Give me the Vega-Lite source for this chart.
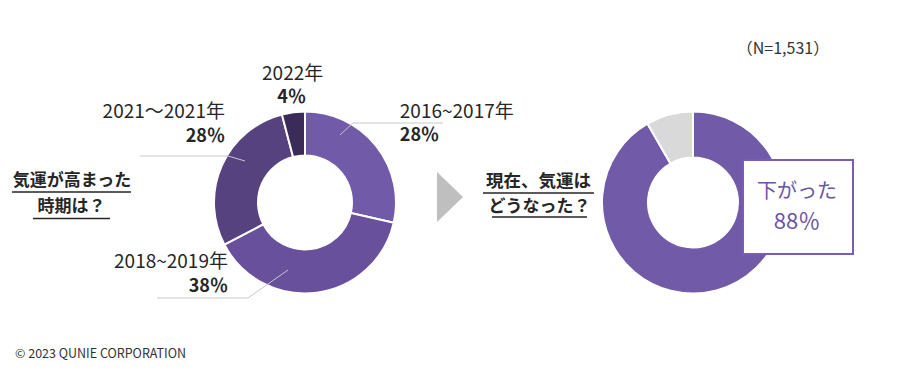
{
  "$schema": "https://vega.github.io/schema/vega-lite/v6.json",
  "width": 900,
  "height": 378,
  "autosize": {"type": "fit", "contains": "padding"},
  "padding": 0,
  "background": "white",
  "config": {"view": {"stroke": null}, "font": "Noto Sans CJK JP", "axis": {"disable": true}},
  "datasets": {
    "period": [
      {"category": "2016~2017年", "value": 28, "label": "28％", "rank": 1},
      {"category": "2018~2019年", "value": 38, "label": "38％", "rank": 2},
      {"category": "2021～2021年", "value": 28, "label": "28％", "rank": 3},
      {"category": "2022年", "value": 4, "label": "4％", "rank": 4}
    ],
    "now": [
      {"answer": "下がった", "value": 88, "label": "88％", "rank": 1},
      {"answer": "その他", "value": 8, "label": "8％", "rank": 2}
    ]
  },
  "resolve": {"scale": {"color": "independent", "theta": "independent"}},
  "layer": [
    {
      "data": {"name": "period"},
      "mark": {"type": "arc", "innerRadius": 47, "outerRadius": 91, "stroke": "white", "strokeWidth": 2},
      "encoding": {
        "x": {"datum": "高まった時期", "type": "nominal", "axis": null, "scale": {"type": "point", "domain": ["高まった時期", "現在"], "padding": 0.6598, "align": 0.5957}},
        "y": {"datum": "中心", "type": "nominal", "axis": null, "scale": {"type": "point", "domain": ["中心"], "align": 0.5357}},
        "theta": {"field": "value", "type": "quantitative", "stack": true},
        "order": {"field": "rank", "type": "quantitative"},
        "color": {"field": "category", "type": "nominal", "legend": null,
          "scale": {"domain": ["2016~2017年", "2018~2019年", "2021～2021年", "2022年"], "range": ["#715aa8", "#69509c", "#574280", "#3a2b58"]}}
      }
    },
    {
      "data": {"name": "now"},
      "mark": {"type": "arc", "innerRadius": 45, "outerRadius": 91, "stroke": "white", "strokeWidth": 2},
      "encoding": {
        "x": {"datum": "現在", "type": "nominal"},
        "y": {"datum": "中心", "type": "nominal"},
        "theta": {"field": "value", "type": "quantitative", "stack": true},
        "order": {"field": "rank", "type": "quantitative"},
        "color": {"field": "answer", "type": "nominal", "legend": null,
          "scale": {"domain": ["下がった", "その他"], "range": ["#715aa8", "#d9d9d9"]}}
      }
    },
    {
      "data": {"name": "period"},
      "mark": {"type": "text", "radius": 120, "align": "left", "baseline": "middle", "dx": 1, "dy": -15.7, "fontSize": 19, "color": "#262626"},
      "encoding": {"x": {"datum": "高まった時期", "type": "nominal"}, "y": {"datum": "中心", "type": "nominal"},
        "theta": {"field": "value", "type": "quantitative", "stack": true}, "order": {"field": "rank", "type": "quantitative"}, "detail": {"field": "category", "type": "nominal"},
        "text": {"condition": {"test": "datum.category === '2016~2017年'", "field": "category"}, "value": ""}}
    },
    {
      "data": {"name": "period"},
      "mark": {"type": "text", "radius": 120, "align": "left", "baseline": "middle", "dx": 1, "dy": 8.8, "fontSize": 18, "fontWeight": "bold", "color": "#262626"},
      "encoding": {"x": {"datum": "高まった時期", "type": "nominal"}, "y": {"datum": "中心", "type": "nominal"},
        "theta": {"field": "value", "type": "quantitative", "stack": true}, "order": {"field": "rank", "type": "quantitative"}, "detail": {"field": "category", "type": "nominal"},
        "text": {"condition": {"test": "datum.category === '2016~2017年'", "field": "label"}, "value": ""}}
    },
    {
      "data": {"name": "period"},
      "mark": {"type": "text", "radius": 120, "align": "right", "baseline": "middle", "dx": -92.4, "dy": -59.5, "fontSize": 19, "color": "#262626"},
      "encoding": {"x": {"datum": "高まった時期", "type": "nominal"}, "y": {"datum": "中心", "type": "nominal"},
        "theta": {"field": "value", "type": "quantitative", "stack": true}, "order": {"field": "rank", "type": "quantitative"}, "detail": {"field": "category", "type": "nominal"},
        "text": {"condition": {"test": "datum.category === '2018~2019年'", "field": "category"}, "value": ""}}
    },
    {
      "data": {"name": "period"},
      "mark": {"type": "text", "radius": 120, "align": "right", "baseline": "middle", "dx": -92.4, "dy": -35, "fontSize": 18, "fontWeight": "bold", "color": "#262626"},
      "encoding": {"x": {"datum": "高まった時期", "type": "nominal"}, "y": {"datum": "中心", "type": "nominal"},
        "theta": {"field": "value", "type": "quantitative", "stack": true}, "order": {"field": "rank", "type": "quantitative"}, "detail": {"field": "category", "type": "nominal"},
        "text": {"condition": {"test": "datum.category === '2018~2019年'", "field": "label"}, "value": ""}}
    },
    {
      "data": {"name": "period"},
      "mark": {"type": "text", "radius": 120, "align": "right", "baseline": "middle", "dx": 29.7, "dy": -41.9, "fontSize": 19, "color": "#262626"},
      "encoding": {"x": {"datum": "高まった時期", "type": "nominal"}, "y": {"datum": "中心", "type": "nominal"},
        "theta": {"field": "value", "type": "quantitative", "stack": true}, "order": {"field": "rank", "type": "quantitative"}, "detail": {"field": "category", "type": "nominal"},
        "text": {"condition": {"test": "datum.category === '2021～2021年'", "field": "category"}, "value": ""}}
    },
    {
      "data": {"name": "period"},
      "mark": {"type": "text", "radius": 120, "align": "right", "baseline": "middle", "dx": 29.7, "dy": -17.4, "fontSize": 18, "fontWeight": "bold", "color": "#262626"},
      "encoding": {"x": {"datum": "高まった時期", "type": "nominal"}, "y": {"datum": "中心", "type": "nominal"},
        "theta": {"field": "value", "type": "quantitative", "stack": true}, "order": {"field": "rank", "type": "quantitative"}, "detail": {"field": "category", "type": "nominal"},
        "text": {"condition": {"test": "datum.category === '2021～2021年'", "field": "label"}, "value": ""}}
    },
    {
      "data": {"name": "period"},
      "mark": {"type": "text", "radius": 120, "align": "center", "baseline": "middle", "dx": 3, "dy": -9.5, "fontSize": 19, "color": "#262626"},
      "encoding": {"x": {"datum": "高まった時期", "type": "nominal"}, "y": {"datum": "中心", "type": "nominal"},
        "theta": {"field": "value", "type": "quantitative", "stack": true}, "order": {"field": "rank", "type": "quantitative"}, "detail": {"field": "category", "type": "nominal"},
        "text": {"condition": {"test": "datum.category === '2022年'", "field": "category"}, "value": ""}}
    },
    {
      "data": {"name": "period"},
      "mark": {"type": "text", "radius": 120, "align": "center", "baseline": "middle", "dx": 2, "dy": 15, "fontSize": 18, "fontWeight": "bold", "color": "#262626"},
      "encoding": {"x": {"datum": "高まった時期", "type": "nominal"}, "y": {"datum": "中心", "type": "nominal"},
        "theta": {"field": "value", "type": "quantitative", "stack": true}, "order": {"field": "rank", "type": "quantitative"}, "detail": {"field": "category", "type": "nominal"},
        "text": {"condition": {"test": "datum.category === '2022年'", "field": "label"}, "value": ""}}
    },
    {
      "data": {"values": [{"decoration": "leader lines"}]},
      "mark": {"type": "point", "shape": "M0.35,-0.675L0.48,-0.795L1.38,-0.795M-1.65,-0.465L-0.77,-0.465L-0.6,-0.415M-1.48,0.955L-0.57,0.955L-0.17,0.675", "size": 40000, "filled": false, "color": "#c8c8c8", "strokeWidth": 1, "opacity": 1},
      "encoding": {"x": {"datum": "高まった時期", "type": "nominal"}, "y": {"datum": "中心", "type": "nominal"}}
    },
    {
      "data": {"values": [{"q": "気運が高まった"}]},
      "mark": {"type": "text", "align": "center", "baseline": "middle", "dx": -233, "dy": -21, "fontSize": 17, "fontWeight": "bold", "color": "#262626"},
      "encoding": {"x": {"datum": "高まった時期", "type": "nominal"}, "y": {"datum": "中心", "type": "nominal"}, "text": {"field": "q"}}
    },
    {
      "data": {"values": [{"q": "時期は？"}]},
      "mark": {"type": "text", "align": "center", "baseline": "middle", "dx": -233.5, "dy": 4.5, "fontSize": 17, "fontWeight": "bold", "color": "#262626"},
      "encoding": {"x": {"datum": "高まった時期", "type": "nominal"}, "y": {"datum": "中心", "type": "nominal"}, "text": {"field": "q"}}
    },
    {
      "data": {"values": [{"decoration": "underline"}]},
      "mark": {"type": "point", "shape": "M-2.93,-0.105L-1.74,-0.105M-2.72,0.16L-1.95,0.16", "size": 40000, "filled": false, "color": "#262626", "strokeWidth": 1.5, "opacity": 1},
      "encoding": {"x": {"datum": "高まった時期", "type": "nominal"}, "y": {"datum": "中心", "type": "nominal"}}
    },
    {
      "data": {"values": [{"decoration": "arrow"}]},
      "mark": {"type": "point", "shape": "M-0.52,-1L0.52,0L-0.52,1Z", "size": 2500, "filled": true, "color": "#bfbfbf", "strokeWidth": 0, "opacity": 1, "xOffset": 145, "yOffset": -5.5},
      "encoding": {"x": {"datum": "高まった時期", "type": "nominal"}, "y": {"datum": "中心", "type": "nominal"}}
    },
    {
      "data": {"values": [{"q": "現在、気運は"}]},
      "mark": {"type": "text", "align": "center", "baseline": "middle", "dx": -154.5, "dy": -20.5, "fontSize": 17.5, "fontWeight": "bold", "color": "#262626"},
      "encoding": {"x": {"datum": "現在", "type": "nominal"}, "y": {"datum": "中心", "type": "nominal"}, "text": {"field": "q"}}
    },
    {
      "data": {"values": [{"q": "どうなった？"}]},
      "mark": {"type": "text", "align": "center", "baseline": "middle", "dx": -153.5, "dy": 4.5, "fontSize": 17, "fontWeight": "bold", "color": "#262626"},
      "encoding": {"x": {"datum": "現在", "type": "nominal"}, "y": {"datum": "中心", "type": "nominal"}, "text": {"field": "q"}}
    },
    {
      "data": {"values": [{"decoration": "underline"}]},
      "mark": {"type": "point", "shape": "M-2.1,-0.095L-0.99,-0.095M-2.01,0.145L-1.06,0.145", "size": 40000, "filled": false, "color": "#262626", "strokeWidth": 1.5, "opacity": 1},
      "encoding": {"x": {"datum": "現在", "type": "nominal"}, "y": {"datum": "中心", "type": "nominal"}}
    },
    {
      "data": {"values": [{"decoration": "box"}]},
      "mark": {"type": "point", "shape": "M-1,-0.855L1,-0.855L1,0.855L-1,0.855Z", "size": 12100, "filled": true, "fill": "white", "stroke": "#7c5db3", "strokeWidth": 2, "opacity": 1, "fillOpacity": 1, "xOffset": 105, "yOffset": 4.5},
      "encoding": {"x": {"datum": "現在", "type": "nominal"}, "y": {"datum": "中心", "type": "nominal"}}
    },
    {
      "data": {"name": "now"},
      "transform": [{"filter": "datum.answer === '下がった'"}],
      "mark": {"type": "text", "align": "center", "baseline": "middle", "dx": 104, "dy": -10, "fontSize": 20, "color": "#6b54a2"},
      "encoding": {"x": {"datum": "現在", "type": "nominal"}, "y": {"datum": "中心", "type": "nominal"}, "text": {"field": "answer"}}
    },
    {
      "data": {"name": "now"},
      "transform": [{"filter": "datum.answer === '下がった'"}],
      "mark": {"type": "text", "align": "center", "baseline": "middle", "dx": 104, "dy": 20, "fontSize": 22, "color": "#6b54a2"},
      "encoding": {"x": {"datum": "現在", "type": "nominal"}, "y": {"datum": "中心", "type": "nominal"}, "text": {"field": "label"}}
    },
    {
      "data": {"values": [{"note": "（N=1,531）"}]},
      "mark": {"type": "text", "align": "center", "baseline": "middle", "dx": 90, "dy": -153.5, "fontSize": 16, "color": "#333333"},
      "encoding": {"x": {"datum": "現在", "type": "nominal"}, "y": {"datum": "中心", "type": "nominal"}, "text": {"field": "note"}}
    },
    {
      "data": {"values": [{"note": "© 2023 QUNIE CORPORATION"}]},
      "mark": {"type": "text", "align": "left", "baseline": "middle", "dx": -290, "dy": 151.5, "fontSize": 12.5, "color": "#333333"},
      "encoding": {"x": {"datum": "高まった時期", "type": "nominal"}, "y": {"datum": "中心", "type": "nominal"}, "text": {"field": "note"}}
    }
  ]
}
